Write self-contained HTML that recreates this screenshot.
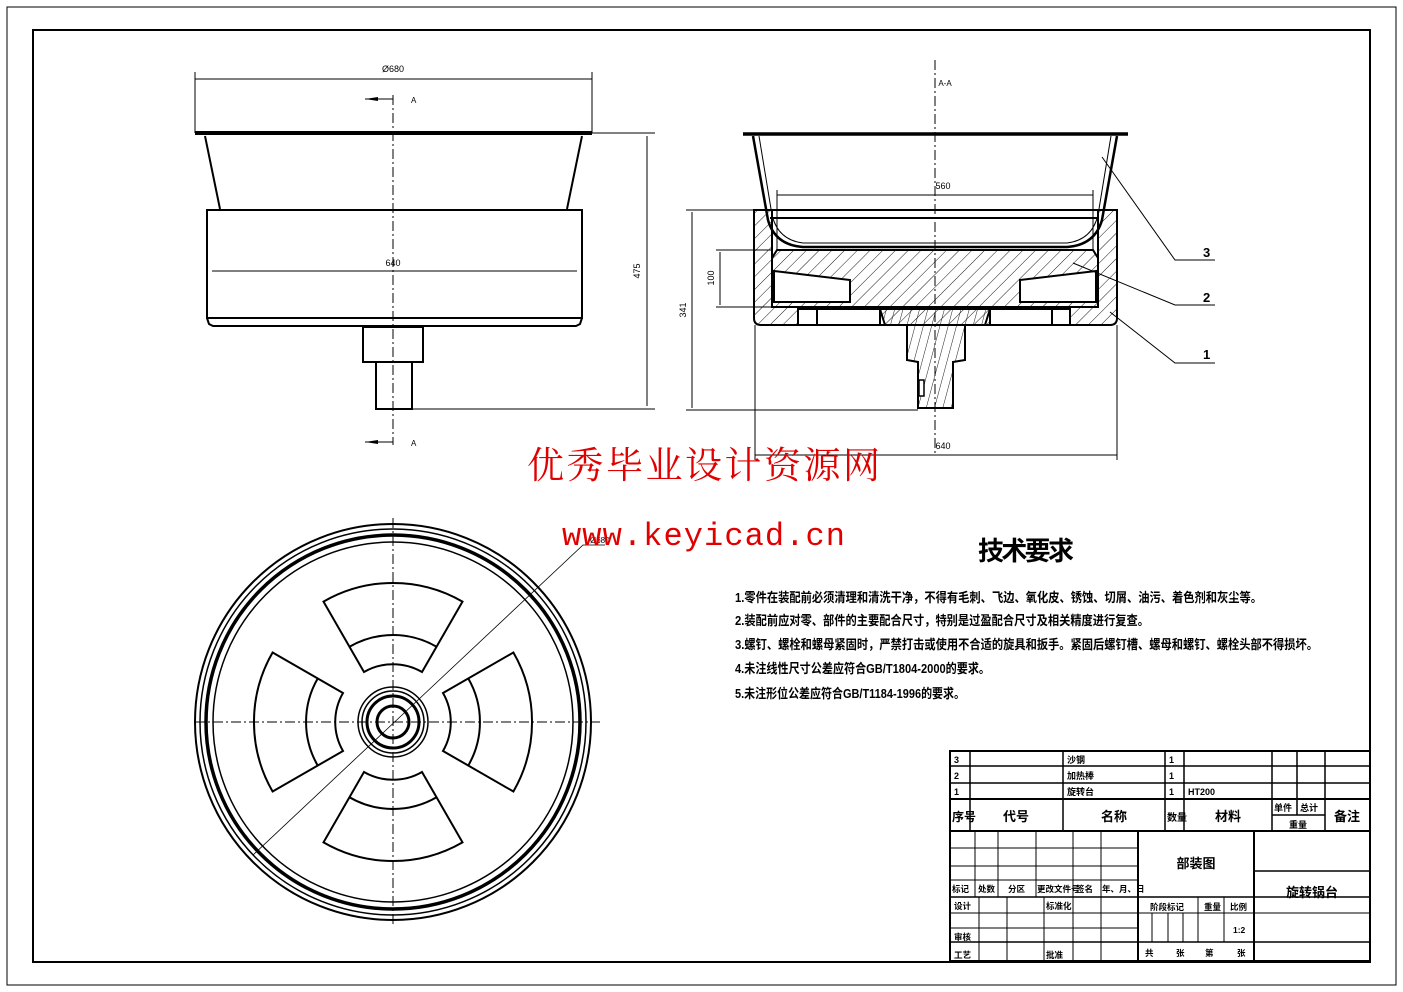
<!DOCTYPE html>
<html><head><meta charset="utf-8"><style>
html,body{margin:0;padding:0;background:#fff}
svg{display:block}
text{font-family:"Liberation Sans","Noto Sans CJK SC",sans-serif;fill:#000}
.c{font-family:"Liberation Sans","Noto Sans CJK SC",sans-serif;font-weight:bold}
</style></head><body>
<svg width="1403" height="992" viewBox="0 0 1403 992" xmlns="http://www.w3.org/2000/svg">
<defs>
<pattern id="h" width="9" height="9" patternUnits="userSpaceOnUse" patternTransform="rotate(45)">
<line x1="0" y1="0" x2="0" y2="9" stroke="#000" stroke-width="0.9"/>
</pattern>
<pattern id="h2" width="8" height="8" patternUnits="userSpaceOnUse" patternTransform="rotate(15)">
<line x1="0" y1="0" x2="0" y2="8" stroke="#000" stroke-width="0.9"/>
</pattern>
</defs>
<rect width="1403" height="992" fill="#fff"/>
<rect x="7" y="7" width="1389" height="978" fill="none" stroke="#000" stroke-width="1"/>
<rect x="33" y="30" width="1337" height="932" fill="none" stroke="#000" stroke-width="2"/>

<!-- LEFT ELEVATION -->
<g stroke="#000" fill="none">
<line x1="195" y1="79" x2="592" y2="79" stroke-width="1"/>
<line x1="195" y1="72" x2="195" y2="133" stroke-width="1"/>
<line x1="592" y1="72" x2="592" y2="133" stroke-width="1"/>
<line x1="195" y1="133" x2="592" y2="133" stroke-width="4"/>
<line x1="205" y1="136" x2="220" y2="209" stroke-width="2"/>
<line x1="582" y1="136" x2="567" y2="209" stroke-width="2"/>
<rect x="207" y="210" width="375" height="108" stroke-width="2"/>
<path d="M207,318 L209,324 L213,326 L576,326 L580,324 L582,318" stroke-width="2"/>
<rect x="363" y="327" width="60" height="35" stroke-width="2"/>
<rect x="376" y="362" width="36" height="47" stroke-width="2"/>
<line x1="212" y1="271" x2="577" y2="271" stroke-width="1"/>
<line x1="393" y1="95" x2="393" y2="445" stroke-width="1" stroke-dasharray="10,3,2,3"/>
<line x1="365" y1="99" x2="393" y2="99" stroke-width="1"/>
<line x1="365" y1="442" x2="393" y2="442" stroke-width="1"/>
<line x1="592" y1="133" x2="655" y2="133" stroke-width="1"/>
<line x1="412" y1="409" x2="655" y2="409" stroke-width="1"/>
<line x1="647" y1="136" x2="647" y2="406" stroke-width="1"/>
</g>
<polygon points="365,99 378,97 378,101" fill="#000"/>
<polygon points="365,442 378,440 378,444" fill="#000"/>
<text x="411" y="103" font-size="8">A</text>
<text x="411" y="446" font-size="8">A</text>
<text x="393" y="72" font-size="9" text-anchor="middle">Ø680</text>
<text x="393" y="266" font-size="9" text-anchor="middle">640</text>
<text x="640" y="271" font-size="9" text-anchor="middle" transform="rotate(-90 640 271)">475</text>

<!-- SECTION VIEW -->
<text x="945" y="86" font-size="8" text-anchor="middle">A-A</text>
<g stroke="#000">
<path d="M754,210 L1117,210 L1117,318 Q1117,325 1110,325 L761,325 Q754,325 754,318 Z" fill="url(#h)" stroke-width="2"/>
<rect x="772" y="210" width="326" height="97" fill="#fff" stroke-width="2"/>
<path d="M777,250 L1093,250 L1098,258 L1098,307 L772,307 L772,258 Z" fill="url(#h)" stroke-width="2"/>
<polygon points="774,271 850,280 850,302 774,302" fill="#fff" stroke-width="2"/>
<polygon points="1096,271 1020,280 1020,302 1096,302" fill="#fff" stroke-width="2"/>
<rect x="798" y="309" width="82" height="16" fill="#fff" stroke-width="2"/>
<rect x="990" y="309" width="80" height="16" fill="#fff" stroke-width="2"/>
<line x1="817" y1="309" x2="817" y2="325" stroke-width="2"/>
<line x1="1052" y1="309" x2="1052" y2="325" stroke-width="2"/>
<polygon points="880,309 990,309 985,325 965,325 965,360 953,362 953,408 918,408 918,362 907,360 907,325 885,325" fill="url(#h2)" stroke-width="2"/>
<rect x="919" y="380" width="5" height="16" fill="#fff" stroke-width="1.5"/>
</g>
<g stroke="#000" fill="none">
<line x1="743" y1="134" x2="1128" y2="134" stroke-width="3.5"/>
<path d="M753,136 L768,220 Q775,245 803,247 L1067,247 Q1095,245 1102,220 L1117,136" stroke-width="2.5"/>
<path d="M759,136 L772,215 Q778,240 803,243 L1067,243 Q1092,240 1098,215 L1111,136" stroke-width="1"/>
<line x1="770" y1="218" x2="1098" y2="218" stroke-width="2"/>
<line x1="935" y1="60" x2="935" y2="455" stroke-width="1" stroke-dasharray="10,3,2,3"/>
<line x1="777" y1="195" x2="1093" y2="195" stroke-width="1"/>
<line x1="777" y1="190" x2="777" y2="250" stroke-width="1"/>
<line x1="1093" y1="190" x2="1093" y2="250" stroke-width="1"/>
<line x1="686" y1="210" x2="754" y2="210" stroke-width="1"/>
<line x1="686" y1="410" x2="918" y2="410" stroke-width="1"/>
<line x1="692" y1="212" x2="692" y2="408" stroke-width="1"/>
<line x1="716" y1="250" x2="772" y2="250" stroke-width="1"/>
<line x1="716" y1="307" x2="772" y2="307" stroke-width="1"/>
<line x1="720" y1="252" x2="720" y2="305" stroke-width="1"/>
<line x1="755" y1="325" x2="755" y2="460" stroke-width="1"/>
<line x1="1117" y1="325" x2="1117" y2="460" stroke-width="1"/>
<line x1="755" y1="455" x2="1117" y2="455" stroke-width="1"/>
<polyline points="1102,157 1175,260 1215,260" stroke-width="1"/>
<polyline points="1073,263 1175,305 1215,305" stroke-width="1"/>
<polyline points="1110,312 1175,363 1215,363" stroke-width="1"/>
</g>
<text x="943" y="189" font-size="9" text-anchor="middle">560</text>
<text x="943" y="449" font-size="9" text-anchor="middle">640</text>
<text x="686" y="310" font-size="9" text-anchor="middle" transform="rotate(-90 686 310)">341</text>
<text x="714" y="278" font-size="9" text-anchor="middle" transform="rotate(-90 714 278)">100</text>
<text x="1203" y="257" font-size="13" class="c">3</text>
<text x="1203" y="302" font-size="13" class="c">2</text>
<text x="1203" y="359" font-size="13" class="c">1</text>

<!-- TOP VIEW -->
<g stroke="#000" fill="none">
<circle cx="393" cy="722" r="198" stroke-width="2"/>
<circle cx="393" cy="722" r="193" stroke-width="1.5"/>
<circle cx="393" cy="722" r="187" stroke-width="3.5"/>
<circle cx="393" cy="722" r="180" stroke-width="1.5"/>
<line x1="195" y1="722" x2="600" y2="722" stroke-width="1" stroke-dasharray="10,3,2,3"/>
<line x1="393" y1="518" x2="393" y2="925" stroke-width="1" stroke-dasharray="10,3,2,3"/>
<g id="sec" stroke-width="2">
<path d="M323.5,601.6 A139,139 0 0 1 462.5,601.6 L422,672 A58,58 0 0 0 364,672 Z"/>
<path d="M349,647 A87,87 0 0 1 437,647"/>
</g>
<use href="#sec" transform="rotate(90 393 722)"/>
<use href="#sec" transform="rotate(180 393 722)"/>
<use href="#sec" transform="rotate(270 393 722)"/>
<circle cx="393" cy="722" r="35" stroke-width="1.5"/>
<circle cx="393" cy="722" r="31" stroke-width="1.5"/>
<circle cx="393" cy="722" r="26" stroke-width="3"/>
<circle cx="393" cy="722" r="16" stroke-width="3"/>
<polyline points="253,855 583,545 605,545" stroke-width="0.8"/>
</g>
<text x="590" y="543" font-size="8">Ø680</text>

<!-- WATERMARK -->
<text x="527" y="478" font-size="37" fill="#e00000" style="fill:#e00000;font-family:'Liberation Serif','Noto Serif CJK SC',serif" textLength="353">优秀毕业设计资源网</text>
<text x="562" y="545" font-size="32" style="fill:#e00000;font-family:'Liberation Mono',monospace" textLength="283">www.keyicad.cn</text>

<!-- TECH REQUIREMENTS -->
<text x="978" y="560" font-size="26" class="c" textLength="96">技术要求</text>
<g font-size="13" class="c">
<text x="735" y="602" textLength="527" lengthAdjust="spacingAndGlyphs" class="c">1.零件在装配前必须清理和清洗干净，不得有毛刺、飞边、氧化皮、锈蚀、切屑、油污、着色剂和灰尘等。</text>
<text x="735" y="625" textLength="414" lengthAdjust="spacingAndGlyphs" class="c">2.装配前应对零、部件的主要配合尺寸，特别是过盈配合尺寸及相关精度进行复查。</text>
<text x="735" y="649" textLength="583" lengthAdjust="spacingAndGlyphs" class="c">3.螺钉、螺栓和螺母紧固时，严禁打击或使用不合适的旋具和扳手。紧固后螺钉槽、螺母和螺钉、螺栓头部不得损坏。</text>
<text x="735" y="673" textLength="255" lengthAdjust="spacingAndGlyphs" class="c">4.未注线性尺寸公差应符合GB/T1804-2000的要求。</text>
<text x="735" y="698" textLength="230" lengthAdjust="spacingAndGlyphs" class="c">5.未注形位公差应符合GB/T1184-1996的要求。</text>
</g>

<!-- TITLE BLOCK -->
<g stroke="#000" fill="none" stroke-width="1.5">
<rect x="950" y="751" width="420" height="210" stroke-width="2"/>
<line x1="950" y1="766" x2="1370" y2="766"/>
<line x1="950" y1="783" x2="1370" y2="783"/>
<line x1="950" y1="799" x2="1370" y2="799" stroke-width="2"/>
<line x1="950" y1="831" x2="1370" y2="831" stroke-width="2"/>
<line x1="970" y1="751" x2="970" y2="831"/>
<line x1="1063" y1="751" x2="1063" y2="831"/>
<line x1="1165" y1="751" x2="1165" y2="831"/>
<line x1="1184" y1="751" x2="1184" y2="831"/>
<line x1="1272" y1="751" x2="1272" y2="831"/>
<line x1="1297" y1="751" x2="1297" y2="815"/>
<line x1="1325" y1="751" x2="1325" y2="831"/>
<line x1="1272" y1="815" x2="1325" y2="815"/>
<!-- lower left grid -->
<line x1="950" y1="848" x2="1138" y2="848" stroke-width="1"/>
<line x1="950" y1="866" x2="1138" y2="866" stroke-width="1"/>
<line x1="950" y1="880" x2="1138" y2="880" stroke-width="1"/>
<line x1="950" y1="897" x2="1370" y2="897" stroke-width="1.5"/>
<line x1="950" y1="913" x2="1370" y2="913" stroke-width="1"/>
<line x1="950" y1="928" x2="1138" y2="928" stroke-width="1"/>
<line x1="950" y1="942" x2="1370" y2="942" stroke-width="1.5"/>
<line x1="975" y1="831" x2="975" y2="897" stroke-width="1"/>
<line x1="998" y1="831" x2="998" y2="897" stroke-width="1"/>
<line x1="1036" y1="831" x2="1036" y2="897" stroke-width="1"/>
<line x1="1073" y1="831" x2="1073" y2="961" stroke-width="1"/>
<line x1="1101" y1="831" x2="1101" y2="961" stroke-width="1"/>
<line x1="979" y1="897" x2="979" y2="961" stroke-width="1"/>
<line x1="1007" y1="897" x2="1007" y2="961" stroke-width="1"/>
<line x1="1044" y1="897" x2="1044" y2="961" stroke-width="1"/>
<line x1="1138" y1="831" x2="1138" y2="961" stroke-width="2"/>
<line x1="1254" y1="831" x2="1254" y2="961" stroke-width="2"/>
<line x1="1254" y1="871" x2="1370" y2="871" stroke-width="1.5"/>
<line x1="1198" y1="897" x2="1198" y2="942" stroke-width="1"/>
<line x1="1224" y1="897" x2="1224" y2="942" stroke-width="1"/>
<line x1="1152" y1="913" x2="1152" y2="942" stroke-width="1"/>
<line x1="1168" y1="913" x2="1168" y2="942" stroke-width="1"/>
<line x1="1183" y1="913" x2="1183" y2="942" stroke-width="1"/>
</g>
<g font-size="9" class="c">
<text x="954" y="763" class="c">3</text>
<text x="954" y="779" class="c">2</text>
<text x="954" y="795" class="c">1</text>
<text x="1067" y="763" class="c">沙钢</text>
<text x="1067" y="779" class="c">加热棒</text>
<text x="1067" y="795" class="c">旋转台</text>
<text x="1169" y="763" class="c">1</text>
<text x="1169" y="779" class="c">1</text>
<text x="1169" y="795" class="c">1</text>
<text x="1188" y="795" class="c">HT200</text>
</g>
<g class="c" font-size="13">
<text x="952" y="821" class="c" font-size="12">序号</text>
<text x="1016" y="821" class="c" text-anchor="middle">代号</text>
<text x="1114" y="821" class="c" text-anchor="middle">名称</text>
<text x="1167" y="821" class="c" font-size="10">数量</text>
<text x="1228" y="821" class="c" text-anchor="middle">材料</text>
<text x="1274" y="811" class="c" font-size="9">单件</text>
<text x="1300" y="811" class="c" font-size="9">总计</text>
<text x="1298" y="828" class="c" font-size="9" text-anchor="middle">重量</text>
<text x="1347" y="821" class="c" text-anchor="middle">备注</text>
<text x="1196" y="868" class="c" text-anchor="middle">部装图</text>
<text x="1312" y="897" class="c" text-anchor="middle">旋转锅台</text>
</g>
<g font-size="8.5" class="c">
<text x="952" y="892" class="c">标记</text>
<text x="978" y="892" class="c">处数</text>
<text x="1008" y="892" class="c">分区</text>
<text x="1037" y="892" class="c">更改文件号</text>
<text x="1076" y="892" class="c">签名</text>
<text x="1102" y="892" class="c">年、月、日</text>
<text x="954" y="909" class="c">设计</text>
<text x="1046" y="909" class="c">标准化</text>
<text x="954" y="940" class="c">审核</text>
<text x="954" y="958" class="c">工艺</text>
<text x="1046" y="958" class="c">批准</text>
<text x="1150" y="910" class="c">阶段标记</text>
<text x="1204" y="910" class="c">重量</text>
<text x="1230" y="910" class="c">比例</text>
<text x="1233" y="933" class="c">1:2</text>
<text x="1145" y="956" class="c">共</text>
<text x="1176" y="956" class="c">张</text>
<text x="1205" y="956" class="c">第</text>
<text x="1237" y="956" class="c">张</text>
</g>
</svg>
</body></html>
